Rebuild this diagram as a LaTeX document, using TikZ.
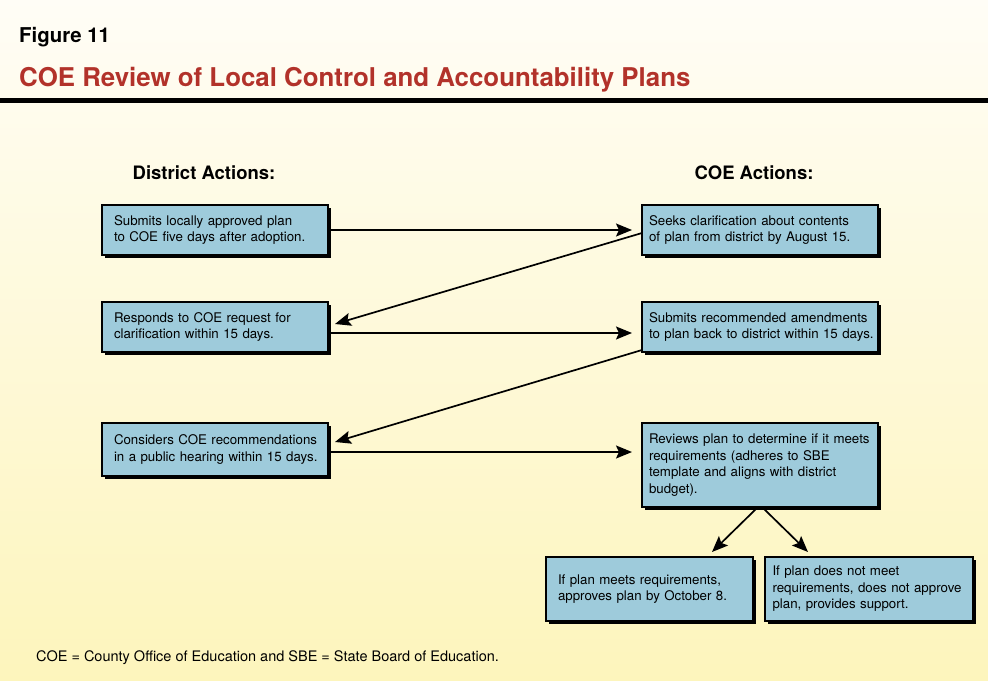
\documentclass[tikz,border=0pt]{standalone}
\usepackage{fontspec}
\setmainfont{TeX Gyre Heros}
\usetikzlibrary{arrows.meta,shadows,calc}
\definecolor{boxblue}{RGB}{158,203,219}
\definecolor{titlered}{RGB}{178,50,42}
\definecolor{bgtop}{RGB}{255,253,246}
\definecolor{bgbot}{RGB}{253,245,188}
\newcommand{\lines}[1]{\begin{tabular}{@{}l@{}}#1\end{tabular}}
\tikzset{
  box/.style={draw=black, line width=1.5pt, fill=boxblue, anchor=north west,
    outer sep=0pt, align=left, inner ysep=2pt,
    font=\fontsize{13.3}{16.5}\selectfont,
    general shadow={fill=black, shadow xshift=2.5pt, shadow yshift=-2.5pt}},
  conn/.style={line width=1.7pt, -{Stealth[length=16pt,width=13pt,inset=3pt]}},
  header/.style={font=\fontsize{18.5}{21}\selectfont\bfseries, anchor=base},
}
\begin{document}
\begin{tikzpicture}[x=1pt,y=-1pt]
\useasboundingbox (0,0) rectangle (988,686);
\shade[top color=bgtop, bottom color=bgbot] (0,0) rectangle (988,681);
\fill[white] (0,681) rectangle (988,686);
% titles
\node[anchor=base west, inner sep=0pt, font=\fontsize{20.4}{24}\selectfont\bfseries] (fig) at (19,42) {Figure 11};
\node[anchor=base west, inner sep=0pt, text=titlered, font=\fontsize{25.85}{30}\selectfont\bfseries] (title) at (19,86) {COE Review of Local Control and Accountability Plans};
\fill[black] (0,98) rectangle (988,103);
% headers
\node[header] (hd) at (204,179) {District Actions:};
\node[header] (hc) at (754,179) {COE Actions:};
% boxes
\node[box, inner xsep=12pt, text width=202pt, minimum height=50pt] (d1) at (102,205)
  {\lines{Submits locally approved plan\\to COE five days after adoption.}};
\node[box, inner xsep=7pt, text width=222pt, minimum height=50pt] (c1) at (642,205)
  {\lines{Seeks clarification about contents\\of plan from district by August 15.}};
\node[box, inner xsep=12pt, text width=202pt, minimum height=50pt] (d2) at (102,302)
  {\lines{Responds to COE request for\\clarification within 15 days.}};
\node[box, inner xsep=7pt, text width=222pt, minimum height=50pt] (c2) at (642,302)
  {\lines{Submits recommended amendments\\to plan back to district within 15 days.}};
\node[box, inner xsep=12pt, text width=202pt, minimum height=53pt] (d3) at (102,423)
  {\lines{Considers COE recommendations\\in a public hearing within 15 days.}};
\node[box, inner xsep=7pt, text width=222pt, minimum height=84pt] (c3) at (642,423)
  {\lines{Reviews plan to determine if it meets\\requirements (adheres to SBE\\template and aligns with district\\budget).}};
\node[box, inner xsep=12pt, text width=183pt, minimum height=64pt] (e1) at (546,557)
  {\lines{If plan meets requirements,\\approves plan by October 8.}};
\node[box, inner xsep=7.5pt, text width=193pt, minimum height=64pt] (e2) at (765,557)
  {\lines{If plan does not meet\\requirements, does not approve\\plan, provides support.}};
% connectors
\draw[conn, shorten >=10pt] (d1.east) -- (c1.west);
\draw[conn] ($(c1.west)+(0,3)$) -- ($(d2.east)+(7,-3)$);
\draw[conn] ($(d2.east)+(0,6)$) coordinate (p2) -- ($(p2 -| c2.west)+(-10,0)$);
\draw[conn] ($(c2.west)+(0,23)$) -- ($(d3.east)+(7,-7.5)$);
\draw[conn] ($(d3.east)+(0,2.5)$) coordinate (p3) -- ($(p3 -| c3.west)+(-10,0)$);
\draw[conn] ($(c3.south)+(-2,0)$) -- ($(e1.north east)+(-41,-5)$);
\draw[conn] ($(c3.south)+(2,0)$) -- ($(e2.north west)+(43,-5)$);
% footnote
\node[anchor=base west, inner sep=0pt, font=\fontsize{14.5}{17}\selectfont] (note) at (36,661)
  {COE = County Office of Education and SBE = State Board of Education.};
\end{tikzpicture}
\end{document}
